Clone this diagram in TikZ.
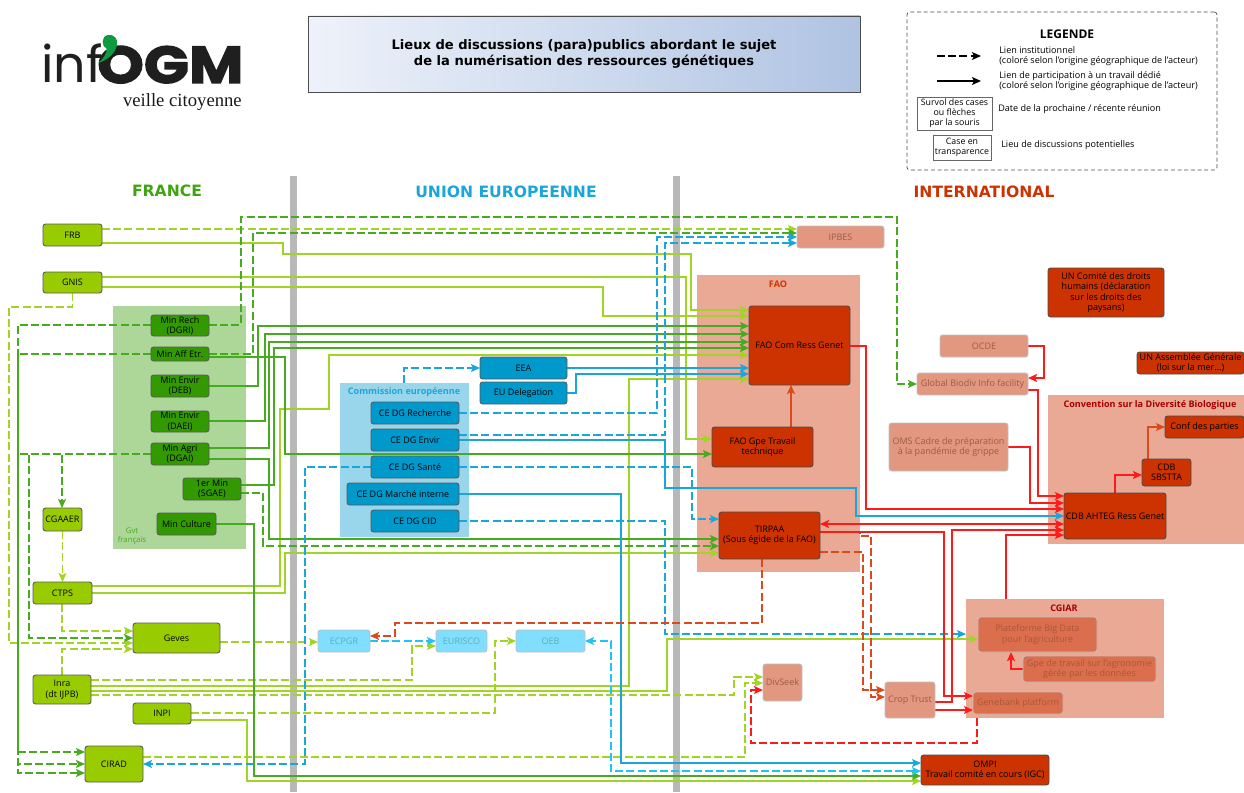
\documentclass[tikz,border=0pt]{standalone}
\usepackage{fontspec}
\setmainfont{Open Sans}
\newfontfamily\headfont{DejaVu Sans}
\newfontfamily\logofont{Poppins}
\newfontfamily\ogmfont[BoldFeatures={FakeBold=2.5,FakeStretch=1.14}]{Poppins}
\newfontfamily\logoserif{Liberation Serif}
\usetikzlibrary{arrows.meta}
\pgfdeclarelayer{grp}\pgfdeclarelayer{conn}\pgfsetlayers{grp,conn,main}
\definecolor{lgn}{HTML}{99CC00}\definecolor{dgn}{HTML}{339900}
\definecolor{bn}{HTML}{0099CC}\definecolor{cn}{HTML}{80DFFF}
\definecolor{rn}{HTML}{CC3300}\definecolor{rt}{HTML}{E29880}
\definecolor{rm}{HTML}{DB6E4C}
\definecolor{lgl}{HTML}{A2D426}\definecolor{dgl}{HTML}{47AB1F}
\definecolor{bl}{HTML}{1BA6DA}\definecolor{cl}{HTML}{1FC3F5}
\definecolor{rl}{HTML}{FF1A1A}\definecolor{drl}{HTML}{DB4A1C}
\definecolor{cytx}{HTML}{5FA9C0}\definecolor{rttx}{HTML}{9A5A48}\definecolor{rmtx}{HTML}{A8573C}
\definecolor{htfr}{HTML}{3FA40F}\definecolor{logog}{HTML}{0E9A3E}
\definecolor{titl}{HTML}{EEF2FA}\definecolor{titr}{HTML}{AFC3E2}
\newcommand\bx[7]{\node[#6,minimum width={(#4-#2)*0.75pt},minimum height={(#5-#3)*0.75pt}] (#1) at ({(#2+#4)/2},{(#3+#5)/2}) {#7};}
\tikzset{
 base/.style={rounded corners=2pt,inner sep=0pt,outer sep=0pt,align=center,line width=0.7pt,
   font=\fontsize{6.75}{7.7}\selectfont,text=black},
 lgbox/.style={base,draw=black!65,fill=lgn},
 dgbox/.style={base,draw=black!65,fill=dgn},
 blbox/.style={base,draw=black!65,fill=bn},
 cybox/.style={base,draw=black!25,fill=cn,text=cytx},
 rdbox/.style={base,draw=black!70,fill=rn},
 rtbox/.style={base,draw=black!25,fill=rt,text=rttx},
 rmbox/.style={base,draw=black!25,fill=rm,text=rmtx},
 grpbox/.style={inner sep=0pt,outer sep=0pt},
 bar/.style={fill=black!28,inner sep=0pt,outer sep=0pt},
 head/.style={font=\headfont\bfseries\fontsize{11.7}{15}\selectfont,inner sep=0pt},
 glabel/.style={font=\bfseries\fontsize{6.8}{8}\selectfont,inner sep=0pt,align=center},
 leg/.style={font=\fontsize{6.8}{7.9}\selectfont,inner sep=0pt,align=left,anchor=west},
 legbox/.style={draw=black!60,line width=0.7pt,inner sep=0pt,outer sep=0pt,align=center,font=\fontsize{6.6}{7.6}\selectfont},
 tip/.style={-{Stealth[length=6.8pt,width=6pt,inset=1.5pt]}},
 tipb/.style={{Stealth[length=6.8pt,width=6pt,inset=1.5pt]}-{Stealth[length=6.8pt,width=6pt,inset=1.5pt]}},
 ln/.style={line width=1.1pt,line join=miter},
 sol/.style={ln,tip},
 das/.style={ln,tip,dash pattern=on 6pt off 2.4pt},
}
\begin{document}
\begin{tikzpicture}[x=0.75pt,y=-0.75pt]
\useasboundingbox (0,0) rectangle (1244,792);
% groups
\begin{pgfonlayer}{grp}
\bx{sepa}{290}{176}{297}{792}{bar}{}
\bx{sepb}{673}{176}{680}{792}{bar}{}
\bx{gvt}{113}{306}{246}{549}{grpbox,fill=dgn!40!white}{}
\bx{comm}{340}{383}{469}{537}{grpbox,fill=bn!40!white}{}
\bx{fao}{697}{275}{860}{572}{grpbox,fill=rn!42!white}{}
\bx{cbd}{1048}{395}{1244}{544}{grpbox,fill=rn!42!white}{}
\bx{cgiar}{966}{599}{1164}{718}{grpbox,fill=rn!42!white}{}
\end{pgfonlayer}
% logo
\node[inner sep=0pt,anchor=base west,font=\logofont\fontsize{38}{38}\selectfont,text=black!88] (inf) at (41,83) {inf};
\node[inner sep=0pt,anchor=base west,font=\ogmfont\bfseries\fontsize{39}{39}\selectfont,text=black!88] (ogm) at (97,83) {OGM};
\fill[logog] (108,35) .. controls (114,34) and (118,39) .. (117,44) .. controls (116,53) and (108,60) .. (98,63) .. controls (103,59) and (106,55) .. (107,49) .. controls (101,47) and (101,36) .. (108,35) -- cycle;
\node[inner sep=0pt,anchor=base east,font=\logoserif\fontsize{14}{14}\selectfont,text=black!90] (veille) at (242,106) {veille citoyenne};
% title
\node[draw=black!70,line width=0.7pt,left color=titl,right color=titr,inner sep=0pt,align=center,
 minimum width={552*0.75pt},minimum height={76*0.75pt},font=\headfont\bfseries\fontsize{9.8}{12.6}\selectfont] (title) at (584,54) {Lieux de discussions (para)publics abordant le sujet\\de la numérisation des ressources génétiques};
% legend
\node[draw=black!70,dash pattern=on 3pt off 2pt,line width=0.5pt,rounded corners=2pt,minimum width={310*0.75pt},minimum height={158*0.75pt},inner sep=0pt] (legend) at (1062,91) {};
\node[inner sep=0pt,font=\bfseries\fontsize{9}{10}\selectfont] (legt) at (1067,34) {LEGENDE};
\coordinate (la1) at (937,56);\coordinate (la2) at (981,56);
\coordinate (lb1) at (937,81);\coordinate (lb2) at (981,81);
\draw[das,black] (la1) -- (la2);
\draw[sol,black] (lb1) -- (lb2);
\node[leg] (lt1) at (999,56) {Lien institutionnel\\(coloré selon l'origine géographique de l'acteur)};
\node[leg] (lt2) at (999,81) {Lien de participation à un travail dédié\\(coloré selon l'origine géographique de l'acteur)};
\node[leg] (lt3) at (998,109) {Date de la prochaine / récente réunion};
\node[leg] (lt4) at (1001,145) {Lieu de discussions potentielles};
\bx{ls}{917}{97}{992}{130}{legbox}{Survol des cases\\ou flèches\\par la souris}
\bx{lc}{933}{135}{991}{160}{legbox}{Case en\\transparence}
% headings
\node[head,text=htfr] (hfr) at (167,191) {FRANCE};
\node[head,text=bl] (heu) at (506,192) {UNION EUROPEENNE};
\node[head,text=rn] (hin) at (984,192) {INTERNATIONAL};
% group labels
\node[glabel,text=rn] (lfao) at (778,284) {FAO};
\node[glabel,text=bl] (lcomm) at (404,392) {Commission européenne};
\node[glabel,text=red!65!black] (lcbd) at (1150,405) {Convention sur la Diversité Biologique};
\node[glabel,text=red!65!black] (lcgi) at (1064,608) {CGIAR};
\node[inner sep=0pt,align=center,text=dgl,font=\fontsize{5.8}{6.8}\selectfont] (lgvt) at (132,536) {Gvt\\français};
% France
\bx{frb}{43}{224}{102}{246}{lgbox}{FRB}
\bx{gnis}{43}{272}{102}{293}{lgbox}{GNIS}
\bx{rech}{151}{315}{209}{336}{dgbox}{Min Rech\\(DGRI)}
\bx{aff}{151}{347}{209}{361}{dgbox}{Min Aff Etr.}
\bx{deb}{151}{375}{209}{397}{dgbox}{Min Envir\\(DEB)}
\bx{daei}{151}{411}{209}{432}{dgbox}{Min Envir\\(DAEI)}
\bx{agri}{151}{443}{209}{465}{dgbox}{Min Agri\\(DGAI)}
\bx{prem}{183}{478}{241}{500}{dgbox}{1er Min\\(SGAE)}
\bx{cult}{157}{513}{216}{535}{dgbox}{Min Culture}
\bx{cgaaer}{43}{508}{82}{531}{lgbox}{CGAAER}
\bx{ctps}{33}{582}{92}{604}{lgbox}{CTPS}
\bx{geves}{133}{623}{220}{653}{lgbox}{Geves}
\bx{inra}{33}{675}{91}{704}{lgbox}{Inra\\(dt IJPB)}
\bx{inpi}{133}{703}{191}{724}{lgbox}{INPI}
\bx{cirad}{85}{746}{143}{782}{lgbox}{CIRAD}
% EU
\bx{eea}{480}{357}{567}{379}{blbox}{EEA}
\bx{eud}{480}{382}{567}{404}{blbox}{EU Delegation}
\bx{dgr}{371}{402}{459}{424}{blbox}{CE DG Recherche}
\bx{dge}{371}{429}{459}{451}{blbox}{CE DG Envir}
\bx{dgs}{371}{456}{459}{478}{blbox}{CE DG Santé}
\bx{dgm}{347}{483}{459}{505}{blbox}{CE DG Marché interne}
\bx{dgc}{371}{510}{459}{532}{blbox}{CE DG CID}
\bx{ecpgr}{318}{630}{370}{652}{cybox}{ECPGR}
\bx{euris}{436}{630}{487}{652}{cybox}{EURISCO}
\bx{oeb}{516}{630}{585}{652}{cybox}{OEB}
% International
\bx{ipbes}{797}{226}{884}{248}{rtbox}{IPBES}
\bx{fcom}{749}{306}{850}{385}{rdbox}{FAO Com Ress Genet}
\bx{fgpe}{712}{427}{813}{467}{rdbox}{FAO Gpe Travail\\technique}
\bx{tirp}{719}{512}{820}{559}{rdbox}{TIRPAA\\(Sous égide de la FAO)}
\bx{ocde}{940}{335}{1028}{357}{rtbox}{OCDE}
\bx{gbif}{917}{373}{1028}{395}{rtbox}{Global Biodiv Info facility}
\bx{oms}{889}{423}{1008}{471}{rtbox}{OMS Cadre de préparation\\à la pandémie de grippe}
\bx{unc}{1048}{268}{1164}{317}{rdbox}{UN Comité des droits\\humains (déclaration\\sur les droits des\\paysans)}
\bx{una}{1137}{352}{1244}{374}{rdbox}{UN Assemblée Générale\\(loi sur la mer...)}
\bx{conf}{1165}{416}{1244}{438}{rdbox}{Conf des parties}
\bx{sbs}{1142}{459}{1191}{486}{rdbox}{CDB\\SBSTTA}
\bx{aht}{1064}{493}{1166}{539}{rdbox}{CDB AHTEG Ress Genet}
\bx{plat}{978}{617}{1097}{652}{rmbox}{Plateforme Big Data\\pour l'agriculture}
\bx{gpet}{1023}{656}{1156}{682}{rmbox}{Gpe de travail sur l'agronomie\\gérée par les données}
\bx{gene}{973}{692}{1063}{714}{rmbox}{Genebank platform}
\bx{crop}{885}{682}{935}{718}{rtbox}{Crop Trust}
\bx{divs}{763}{664}{802}{701}{rtbox}{DivSeek}
\bx{ompi}{921}{755}{1049}{785}{rdbox}{OMPI\\Travail comité en cours (IGC)}
% connectors
\begin{pgfonlayer}{conn}
% light green
\draw[das,lgl] (frb.east|-0,229) -- (ipbes.west|-0,229);
\draw[sol,lgl] (frb.east|-0,243) -- (283,243) -- (283,254) -- (691,254) -- (691,310) -- (fcom.west|-0,310);
\draw[sol,lgl] (gnis.east|-0,277) -- (686,277) -- (686,439) -- (fgpe.west|-0,439);
\draw[sol,lgl] (gnis.east|-0,287) -- (603,287) -- (603,316) -- (fcom.west|-0,316);
\draw[das,lgl] (gnis.south) -- (72.5,307) -- (9,307) -- (9,643) -- (geves.west|-0,643);
\draw[das,lgl] (cgaaer.south) -- (ctps.north-|cgaaer.south);
\draw[sol,lgl] (ctps.east|-0,586) -- (280,586) -- (280,409) -- (329,409) -- (329,355) -- (fcom.west|-0,355);
\draw[sol,lgl] (ctps.east|-0,593) -- (285,593) -- (285,553) -- (tirp.west|-0,553);
\draw[das,lgl] (ctps.south-|62,0) -- (62,631) -- (geves.west|-0,631);
\draw[das,lgl] (inra.north-|62,0) -- (62,649) -- (geves.west|-0,649);
\draw[das,lgl] (geves.east|-0,642) -- (ecpgr.west|-0,642);
\draw[das,lgl] (inra.east|-0,680) -- (412,680) -- (412,646) -- (euris.west|-0,646);
\draw[sol,lgl] (inra.east|-0,686) -- (629,686) -- (629,379) -- (fcom.west|-0,379);
\draw[sol,lgl] (inra.east|-0,691) -- (667,691) -- (667,639) -- (plat.west|-0,639);
\draw[das,lgl] (inra.east|-0,695) -- (734,695) -- (734,677) -- (divs.west|-0,677);
\draw[das,lgl] (inpi.east|-0,713) -- (495,713) -- (495,641) -- (oeb.west|-0,641);
\draw[sol,lgl] (inpi.east|-0,720) -- (247,720) -- (247,781) -- (ompi.west|-0,781);
\draw[das,lgl] (cirad.east|-0,757) -- (745,757) -- (745,683) -- (divs.west|-0,683);
% dark green
\draw[das,dgl] (rech.east|-0,325) -- (241,325) -- (241,217) -- (897,217) -- (897,384) -- (gbif.west|-0,384);
\draw[das,dgl] (rech.west|-0,325) -- (18,325) -- (18,752) -- (cirad.west|-0,752);
\draw[das,dgl] (aff.west|-0,354) -- (18,354) -- (18,764) -- (cirad.west|-0,764);
\draw[das,dgl] (aff.east|-0,354) -- (253,354) -- (253,233) -- (ipbes.west|-0,233);
\draw[das,dgl] (agri.west|-0,454) -- (18,454) -- (18,773) -- (cirad.west|-0,773);
\draw[das,dgl] (agri.west|-0,454) -- (29,454) -- (29,638) -- (geves.west|-0,638);
\draw[das,dgl] (agri.west|-0,454) -- (62,454) -- (cgaaer.north-|62,0);
\draw[sol,dgl] (deb.east|-0,386) -- (258,386) -- (258,326) -- (fcom.west|-0,326);
\draw[sol,dgl] (daei.east|-0,421) -- (265,421) -- (265,334) -- (fcom.west|-0,334);
\draw[sol,dgl] (agri.east|-0,448) -- (269,448) -- (269,342) -- (fcom.west|-0,342);
\draw[sol,dgl] (prem.east|-0,485) -- (274,485) -- (274,348) -- (fcom.west|-0,348);
\draw[sol,dgl] (aff.east|-0,357) -- (285,357) -- (285,454) -- (fgpe.west|-0,454);
\draw[sol,dgl] (agri.east|-0,459) -- (269,459) -- (269,539) -- (tirp.west|-0,539);
\draw[das,dgl] (prem.east|-0,493) -- (263,493) -- (263,546) -- (tirp.west|-0,546);
\draw[sol,dgl] (cult.east|-0,524) -- (254,524) -- (254,776) -- (ompi.west|-0,776);
% blue
\draw[das,bl] (dgr.east|-0,413) -- (657,413) -- (657,237) -- (ipbes.west|-0,237);
\draw[das,bl] (dge.east|-0,435) -- (665,435) -- (665,243) -- (ipbes.west|-0,243);
\draw[sol,bl] (dge.east|-0,440) -- (665,440) -- (665,488) -- (856,488) -- (856,516) -- (aht.west|-0,516);
\draw[das,bl] (dgs.west|-0,467) -- (305,467) -- (305,764) -- (cirad.east|-0,764);
\draw[das,bl] (dgs.east|-0,467) -- (692,467) -- (692,519) -- (tirp.west|-0,519);
\draw[sol,bl] (dgm.east|-0,494) -- (621,494) -- (621,763) -- (ompi.west|-0,763);
\draw[das,bl] (dgc.east|-0,521) -- (665,521) -- (665,634) -- (cgiar.west|-0,634);
\draw[das,bl] (comm.north-|404,0) -- (404,368) -- (eea.west|-0,368);
\draw[sol,bl] (eea.east|-0,368) -- (fcom.west|-0,368);
\draw[sol,bl] (eud.east|-0,393) -- (576,393) -- (576,374) -- (fcom.west|-0,374);
% cyan
\draw[das,cl] (ecpgr.east|-0,641) -- (euris.west|-0,641);
\draw[das,cl,tipb] (ompi.west|-0,771) -- (611,771) -- (611,641) -- (oeb.east|-0,641);
% red
\draw[sol,drl] (fgpe.north-|791,0) -- (fcom.south-|791,0);
\draw[sol,rl] (fcom.east|-0,346) -- (866,346) -- (866,509) -- (aht.west|-0,509);
\draw[sol,rl] (oms.east|-0,447) -- (1030,447) -- (1030,503) -- (aht.west|-0,503);
\draw[sol,rl] (gbif.east|-0,390) -- (1038,390) -- (1038,496) -- (aht.west|-0,496);
\draw[sol,rl] (ocde.east|-0,346) -- (1044,346) -- (1044,378) -- (gbif.east|-0,378);
\draw[sol,rl] (aht.north-|1115,0) -- (1115,475) -- (sbs.west|-0,475);
\draw[sol,drl] (sbs.north-|1148,0) -- (1148,427) -- (conf.west|-0,427);
\draw[das,drl] (tirp.east|-0,532) -- (860,532) -- (860,536) -- (871,536) -- (871,697) -- (crop.west|-0,697);
\draw[das,drl] (tirp.east|-0,552) -- (863,552) -- (863,690) -- (crop.west|-0,690);
\draw[ln,tipb,rl] (tirp.east|-0,524) -- (aht.west|-0,524);
\draw[sol,rl] (tirp.east|-0,532) -- (944,532) -- (944,696) -- (gene.west|-0,696);
\draw[sol,rl] (crop.east|-0,702) -- (952,702) -- (952,530) -- (aht.west|-0,530);
\draw[sol,rl] (crop.east|-0,710) -- (gene.west|-0,710);
\draw[sol,rl] (cgiar.north-|1006,0) -- (1006,535) -- (aht.west|-0,535);
\draw[sol,rl] (gpet.west|-0,669) -- (1011,669) -- (plat.south-|1011,0);
\draw[das,drl] (tirp.south-|762,0) -- (762,623) -- (395,623) -- (395,636) -- (ecpgr.east|-0,636);
\draw[das,rl] (cgiar.south-|977,0) -- (977,743) -- (751,743) -- (751,690) -- (divs.west|-0,690);
\end{pgfonlayer}
\end{tikzpicture}
\end{document}
